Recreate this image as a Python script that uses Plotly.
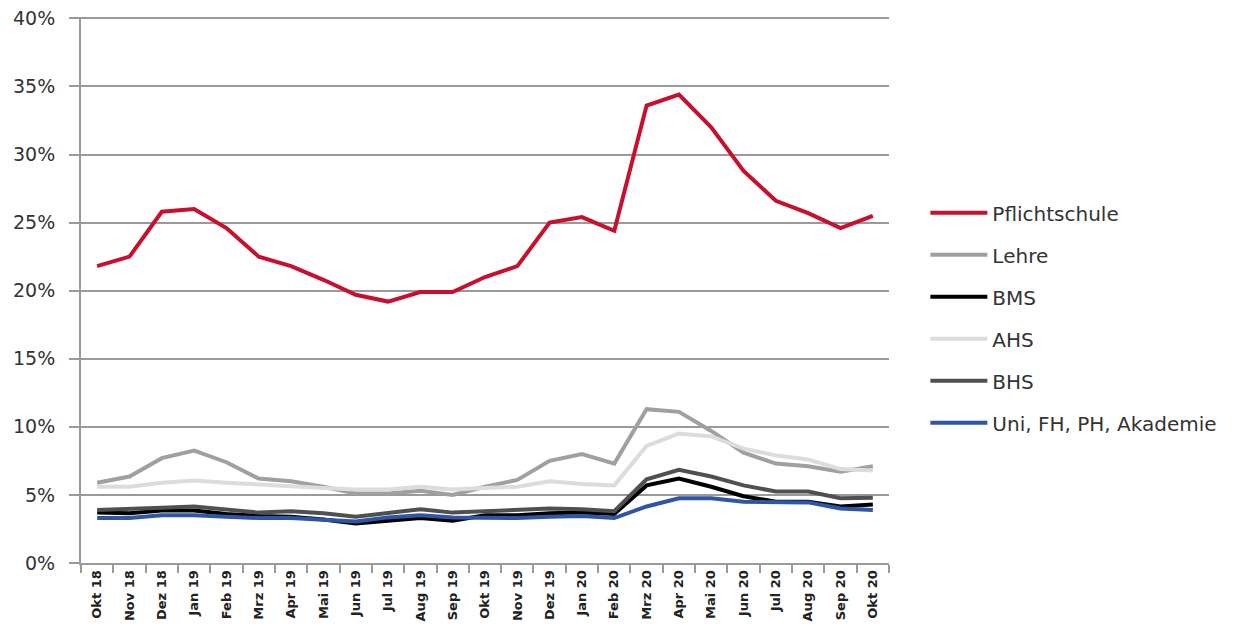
import plotly.graph_objects as go

months = ["Okt 18", "Nov 18", "Dez 18", "Jan 19", "Feb 19", "Mrz 19", "Apr 19", "Mai 19",
          "Jun 19", "Jul 19", "Aug 19", "Sep 19", "Okt 19", "Nov 19", "Dez 19", "Jan 20",
          "Feb 20", "Mrz 20", "Apr 20", "Mai 20", "Jun 20", "Jul 20", "Aug 20", "Sep 20", "Okt 20"]
y_ticks = [0, 5, 10, 15, 20, 25, 30, 35, 40]

pflichtschule = [21.8, 22.5, 25.8, 26.0, 24.6, 22.5, 21.8, 20.8, 19.7, 19.2, 19.9, 19.9, 21.0,
                 21.8, 25.0, 25.4, 24.4, 33.6, 34.4, 32.0, 28.8, 26.6, 25.7, 24.6, 25.5]
lehre = [5.9, 6.35, 7.7, 8.25, 7.4, 6.2, 6.0, 5.6, 5.1, 5.1, 5.3, 5.0, 5.6,
         6.1, 7.5, 8.0, 7.3, 11.3, 11.1, 9.7, 8.1, 7.3, 7.1, 6.7, 7.1]
bms = [3.7, 3.65, 3.85, 3.85, 3.6, 3.45, 3.4, 3.2, 2.9, 3.1, 3.3, 3.1, 3.5,
       3.5, 3.65, 3.7, 3.6, 5.7, 6.2, 5.6, 4.9, 4.5, 4.5, 4.15, 4.3]
ahs = [5.6, 5.6, 5.9, 6.05, 5.9, 5.75, 5.65, 5.5, 5.4, 5.4, 5.6, 5.4, 5.5,
       5.6, 6.0, 5.8, 5.7, 8.6, 9.5, 9.3, 8.4, 7.9, 7.6, 6.9, 6.8]
bhs = [3.9, 3.95, 4.05, 4.15, 3.95, 3.7, 3.8, 3.65, 3.4, 3.7, 3.95, 3.7, 3.8,
       3.9, 4.0, 3.95, 3.8, 6.15, 6.85, 6.35, 5.7, 5.25, 5.25, 4.75, 4.8]
uni = [3.3, 3.3, 3.5, 3.5, 3.4, 3.3, 3.3, 3.15, 3.05, 3.35, 3.5, 3.35, 3.3,
       3.3, 3.4, 3.45, 3.3, 4.15, 4.75, 4.75, 4.5, 4.45, 4.45, 4.0, 3.9]

series = [
    ("Pflichtschule", pflichtschule, "#C8102E"),
    ("Lehre", lehre, "#A0A0A0"),
    ("BMS", bms, "#000000"),
    ("AHS", ahs, "#DCDCDC"),
    ("BHS", bhs, "#505050"),
    ("Uni, FH, PH, Akademie", uni, "#2F55A4"),
]

fig = go.Figure()
for name, vals, col in series:
    fig.add_trace(go.Scatter(x=months, y=[v / 100 for v in vals], name=name, mode="lines",
                             line=dict(color=col, width=4), legendgroup=name))

fig.update_layout(
    width=1239, height=626,
    margin=dict(l=73, r=358, t=9, b=71),
    plot_bgcolor="white", paper_bgcolor="white",
    font=dict(family="DejaVu Sans", color="#333333"),
    legend=dict(x=1.045, y=0.449, xanchor="left", yanchor="middle",
                font=dict(size=20, color="#333333"), tracegroupgap=13,
                traceorder="grouped", itemwidth=57),
    xaxis=dict(type="category", categoryorder="array", categoryarray=months,
               tickangle=-90, tickfont=dict(size=13, color="#222222", weight="bold"),
               showline=True, linecolor="#9A9A9A", linewidth=2,
               ticks="outside", tickson="boundaries", ticklen=8, tickcolor="#9A9A9A",
               tickwidth=1.5, showgrid=False, range=[-0.5, 24.5], automargin=False),
    yaxis=dict(range=[0, 0.401], tickmode="array",
               tickvals=[t / 100 for t in y_ticks], ticktext=[f"{t}%" for t in y_ticks],
               tickfont=dict(size=19, color="#333333"), ticklabelstandoff=10,
               ticklabeloverflow="allow",
               showline=True, linecolor="#9A9A9A", linewidth=2,
               ticks="outside", ticklen=10, tickcolor="#9A9A9A", tickwidth=1.5,
               gridcolor="#9A9A9A", gridwidth=1.5, zeroline=False, automargin=False),
)

fig.write_html("out.html")
